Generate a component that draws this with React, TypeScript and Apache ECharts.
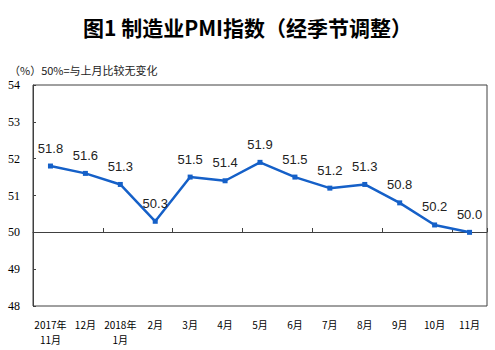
import React, { useEffect, useRef } from "react";
import * as echarts from "echarts";

const categories = [
  "2017年\n11月", "12月", "2018年\n1月", "2月", "3月", "4月", "5月",
  "6月", "7月", "8月", "9月", "10月", "11月",
];
const pmiValues = [51.8, 51.6, 51.3, 50.3, 51.5, 51.4, 51.9, 51.5, 51.2, 51.3, 50.8, 50.2, 50.0];
const yTicks = { min: 48, max: 54, interval: 1 };
const titleText = "图1 制造业PMI指数（经季节调整）";
const noteText = "（%）50%=与上月比较无变化";

export default function App() {
  const ref = useRef<HTMLDivElement>(null);
  useEffect(() => {
    if (!ref.current) return;
    const chart = echarts.init(ref.current, null, { renderer: "svg" });
    const cjk = "'Noto Sans CJK SC', sans-serif";
    chart.setOption({
      animation: false,
      backgroundColor: "#ffffff",
      title: [
        {
          text: titleText,
          left: "center",
          top: 11,
          textStyle: { fontSize: 21, fontWeight: "bold", color: "#000", fontFamily: cjk },
        },
        {
          text: noteText,
          left: 4,
          top: 59,
          textStyle: { fontSize: 11, fontWeight: "normal", color: "#222", fontFamily: cjk },
        },
      ],
      grid: {
        left: 33,
        right: 8,
        top: 85,
        bottom: 44,
        show: true,
        borderColor: "#404040",
        borderWidth: 1,
        backgroundColor: "transparent",
      },
      xAxis: [
        {
          type: "category",
          data: categories,
          boundaryGap: true,
          position: "bottom",
          axisLine: { show: false },
          axisTick: { show: false },
          axisLabel: {
            interval: 0,
            fontSize: 10,
            lineHeight: 15,
            margin: 11,
            color: "#000",
            fontFamily: cjk,
          },
          splitLine: { show: false },
        },
        {
          type: "category",
          data: categories,
          boundaryGap: true,
          position: "bottom",
          offset: -74,
          axisLine: { show: true, lineStyle: { color: "#404040", width: 1 } },
          axisTick: { show: true, inside: true, length: 4, lineStyle: { color: "#404040" } },
          axisLabel: { show: false },
          splitLine: { show: false },
        },
      ],
      yAxis: {
        type: "value",
        min: yTicks.min,
        max: yTicks.max,
        interval: yTicks.interval,
        axisLine: { show: true, lineStyle: { color: "#404040" } },
        axisTick: { show: true, inside: true, length: 3, lineStyle: { color: "#404040" } },
        axisLabel: {
          fontSize: 12,
          color: "#000",
          margin: 13,
          fontFamily: "'Liberation Serif', serif",
        },
        splitLine: { show: false },
      },
      series: [
        {
          type: "line",
          data: pmiValues,
          xAxisIndex: 0,
          symbol: "rect",
          symbolSize: 5,
          lineStyle: { color: "#1560C8", width: 2.5 },
          itemStyle: { color: "#1560C8" },
          label: {
            show: true,
            position: "top",
            distance: 9,
            fontSize: 13,
            color: "#222",
            fontFamily: "'Liberation Sans', Arial, sans-serif",
            formatter: (p: any) => Number(p.value).toFixed(1),
          },
        },
      ],
    });
    return () => chart.dispose();
  }, []);
  return (
    <div
      ref={ref}
      style={{ position: "fixed", left: 0, top: 0, width: 495, height: 350 }}
    />
  );
}
